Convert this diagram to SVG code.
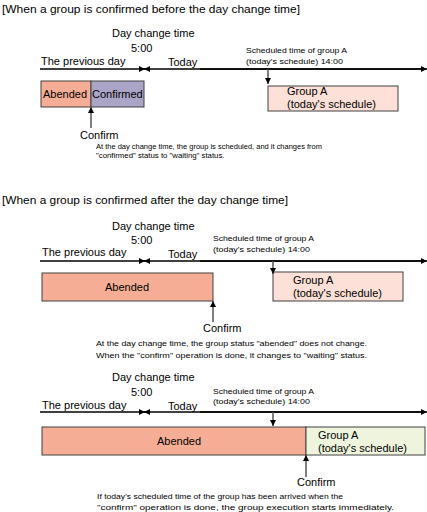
<svg xmlns="http://www.w3.org/2000/svg" width="427" height="512" viewBox="0 0 427 512">
<defs>
<style>
text{font-family:"Liberation Sans",Arial,sans-serif;fill:#000}
.t{font-size:11px}
.s{font-size:7.8px}
.box{stroke:#404040;stroke-width:1}
.ab{fill:#f5ae95}
.cf{fill:#aaa4c7}
.ga{fill:#fde0d7}
.gg{fill:#eff5dd}
.tl{stroke:#000;stroke-width:1.6;fill:none}
.ar{stroke:#555;stroke-width:1.5;fill:none}
</style>
<marker id="ah" viewBox="0 0 10 10" refX="10" refY="5" markerWidth="6" markerHeight="7" markerUnits="userSpaceOnUse" orient="auto"><path d="M0,0L10,5L0,10z" fill="#000"/></marker>
<marker id="ahs" viewBox="0 0 10 10" refX="10" refY="5" markerWidth="6" markerHeight="9" markerUnits="userSpaceOnUse" orient="auto"><path d="M0,0L10,5L0,10z" fill="#000"/></marker>
</defs>

<!-- Section 1 -->
<g id="title1"><text class="t" x="2" y="13" textLength="298" lengthAdjust="spacingAndGlyphs">[When a group is confirmed before the day change time]</text></g>
<g id="daychange1"><text class="t" x="112" y="37">Day change time</text><text class="t" x="131" y="52">5:00</text></g>
<g id="prev1"><text class="t" x="41" y="65">The previous day</text></g>
<g id="today1"><text class="t" x="168" y="66">Today</text></g>
<g id="sched1"><text class="s" x="246" y="53" textLength="101" lengthAdjust="spacingAndGlyphs">Scheduled time of group A</text><text class="s" x="246" y="64" textLength="97" lengthAdjust="spacingAndGlyphs">(today's schedule) 14:00</text></g>
<g id="abended1"><rect class="box ab" x="41" y="81" width="50" height="26"/><text class="t" x="43" y="98">Abended</text></g>
<g id="confirmed1"><rect class="box cf" x="91" y="81" width="53" height="26"/><text class="t" x="92" y="98">Confirmed</text></g>
<g id="groupA1"><rect class="box ga" x="268" y="86" width="130" height="25"/><text class="t" x="287" y="95">Group A</text><text class="t" x="287" y="108">(today's schedule)</text></g>
<g id="confirm1"><text class="t" x="80" y="139">Confirm</text></g>
<g id="desc1"><text class="s" x="96" y="149" textLength="226" lengthAdjust="spacingAndGlyphs">At the day change time, the group is scheduled, and it changes from</text><text class="s" x="96" y="158">"confirmed" status to "waiting" status.</text></g>

<!-- Section 2 -->
<g id="title2"><text class="t" x="2" y="204" textLength="286" lengthAdjust="spacingAndGlyphs">[When a group is confirmed after the day change time]</text></g>
<g id="daychange2"><text class="t" x="112" y="230">Day change time</text><text class="t" x="131" y="244">5:00</text></g>
<g id="prev2"><text class="t" x="42" y="256">The previous day</text></g>
<g id="today2"><text class="t" x="168" y="258">Today</text></g>
<g id="sched2"><text class="s" x="213" y="241" textLength="101" lengthAdjust="spacingAndGlyphs">Scheduled time of group A</text><text class="s" x="213" y="252" textLength="97" lengthAdjust="spacingAndGlyphs">(today's schedule) 14:00</text></g>
<g id="abended2"><rect class="box ab" x="42" y="273" width="171" height="28"/><text class="t" x="105" y="291">Abended</text></g>
<g id="groupA2"><rect class="box ga" x="273" y="272" width="130" height="29"/><text class="t" x="293" y="284">Group A</text><text class="t" x="293" y="297">(today's schedule)</text></g>
<g id="confirm2"><text class="t" x="203" y="332">Confirm</text></g>
<g id="desc2"><text class="s" x="96" y="346" textLength="271" lengthAdjust="spacingAndGlyphs">At the day change time, the group status "abended" does not change.</text><text class="s" x="96" y="358" textLength="271" lengthAdjust="spacingAndGlyphs">When the "confirm" operation is done, it changes to "waiting" status.</text></g>

<!-- Section 3 -->
<g id="daychange3"><text class="t" x="112" y="381">Day change time</text><text class="t" x="131" y="396">5:00</text></g>
<g id="prev3"><text class="t" x="42" y="409">The previous day</text></g>
<g id="today3"><text class="t" x="168" y="410">Today</text></g>
<g id="sched3"><text class="s" x="213" y="394" textLength="101" lengthAdjust="spacingAndGlyphs">Scheduled time of group A</text><text class="s" x="213" y="404" textLength="97" lengthAdjust="spacingAndGlyphs">(today's schedule) 14:00</text></g>
<g id="abended3"><rect class="box ab" x="42" y="427" width="264" height="28"/><text class="t" x="157" y="445">Abended</text></g>
<g id="groupA3"><rect class="box gg" x="306" y="427" width="119" height="28"/><text class="t" x="318" y="439">Group A</text><text class="t" x="318" y="452">(today's schedule)</text></g>
<g id="confirm3"><text class="t" x="297" y="486">Confirm</text></g>
<g id="desc3"><text class="s" x="97" y="499" textLength="246" lengthAdjust="spacingAndGlyphs">If today's scheduled time of the group has been arrived when the</text><text class="s" x="97" y="510" textLength="297" lengthAdjust="spacingAndGlyphs">"confirm" operation is done, the group execution starts immediately.</text></g>

<g id="connectors">
<!-- section 1 timeline -->
<line class="tl" x1="40" y1="69" x2="145" y2="69" marker-end="url(#ahs)"/>
<line class="tl" x1="425" y1="69" x2="144" y2="69" marker-end="url(#ahs)"/>
<line class="tl" x1="200" y1="69" x2="427" y2="69" marker-end="url(#ahs)"/>
<line class="ar" x1="268" y1="69" x2="268" y2="84" marker-end="url(#ah)"/>
<line class="ar" x1="91" y1="128" x2="91" y2="107" marker-end="url(#ah)"/>
<!-- section 2 timeline -->
<line class="tl" x1="40" y1="261" x2="145" y2="261" marker-end="url(#ahs)"/>
<line class="tl" x1="425" y1="261" x2="144" y2="261" marker-end="url(#ahs)"/>
<line class="tl" x1="200" y1="261" x2="427" y2="261" marker-end="url(#ahs)"/>
<line class="ar" x1="273" y1="261" x2="273" y2="274" marker-end="url(#ah)"/>
<line class="ar" x1="213" y1="322" x2="213" y2="301" marker-end="url(#ah)"/>
<!-- section 3 timeline -->
<line class="tl" x1="40" y1="412" x2="145" y2="412" marker-end="url(#ahs)"/>
<line class="tl" x1="425" y1="412" x2="144" y2="412" marker-end="url(#ahs)"/>
<line class="tl" x1="200" y1="412" x2="427" y2="412" marker-end="url(#ahs)"/>
<line class="ar" x1="273" y1="412" x2="273" y2="426" marker-end="url(#ah)"/>
<line class="ar" x1="306" y1="477" x2="306" y2="455" marker-end="url(#ah)"/>
</g>
</svg>
